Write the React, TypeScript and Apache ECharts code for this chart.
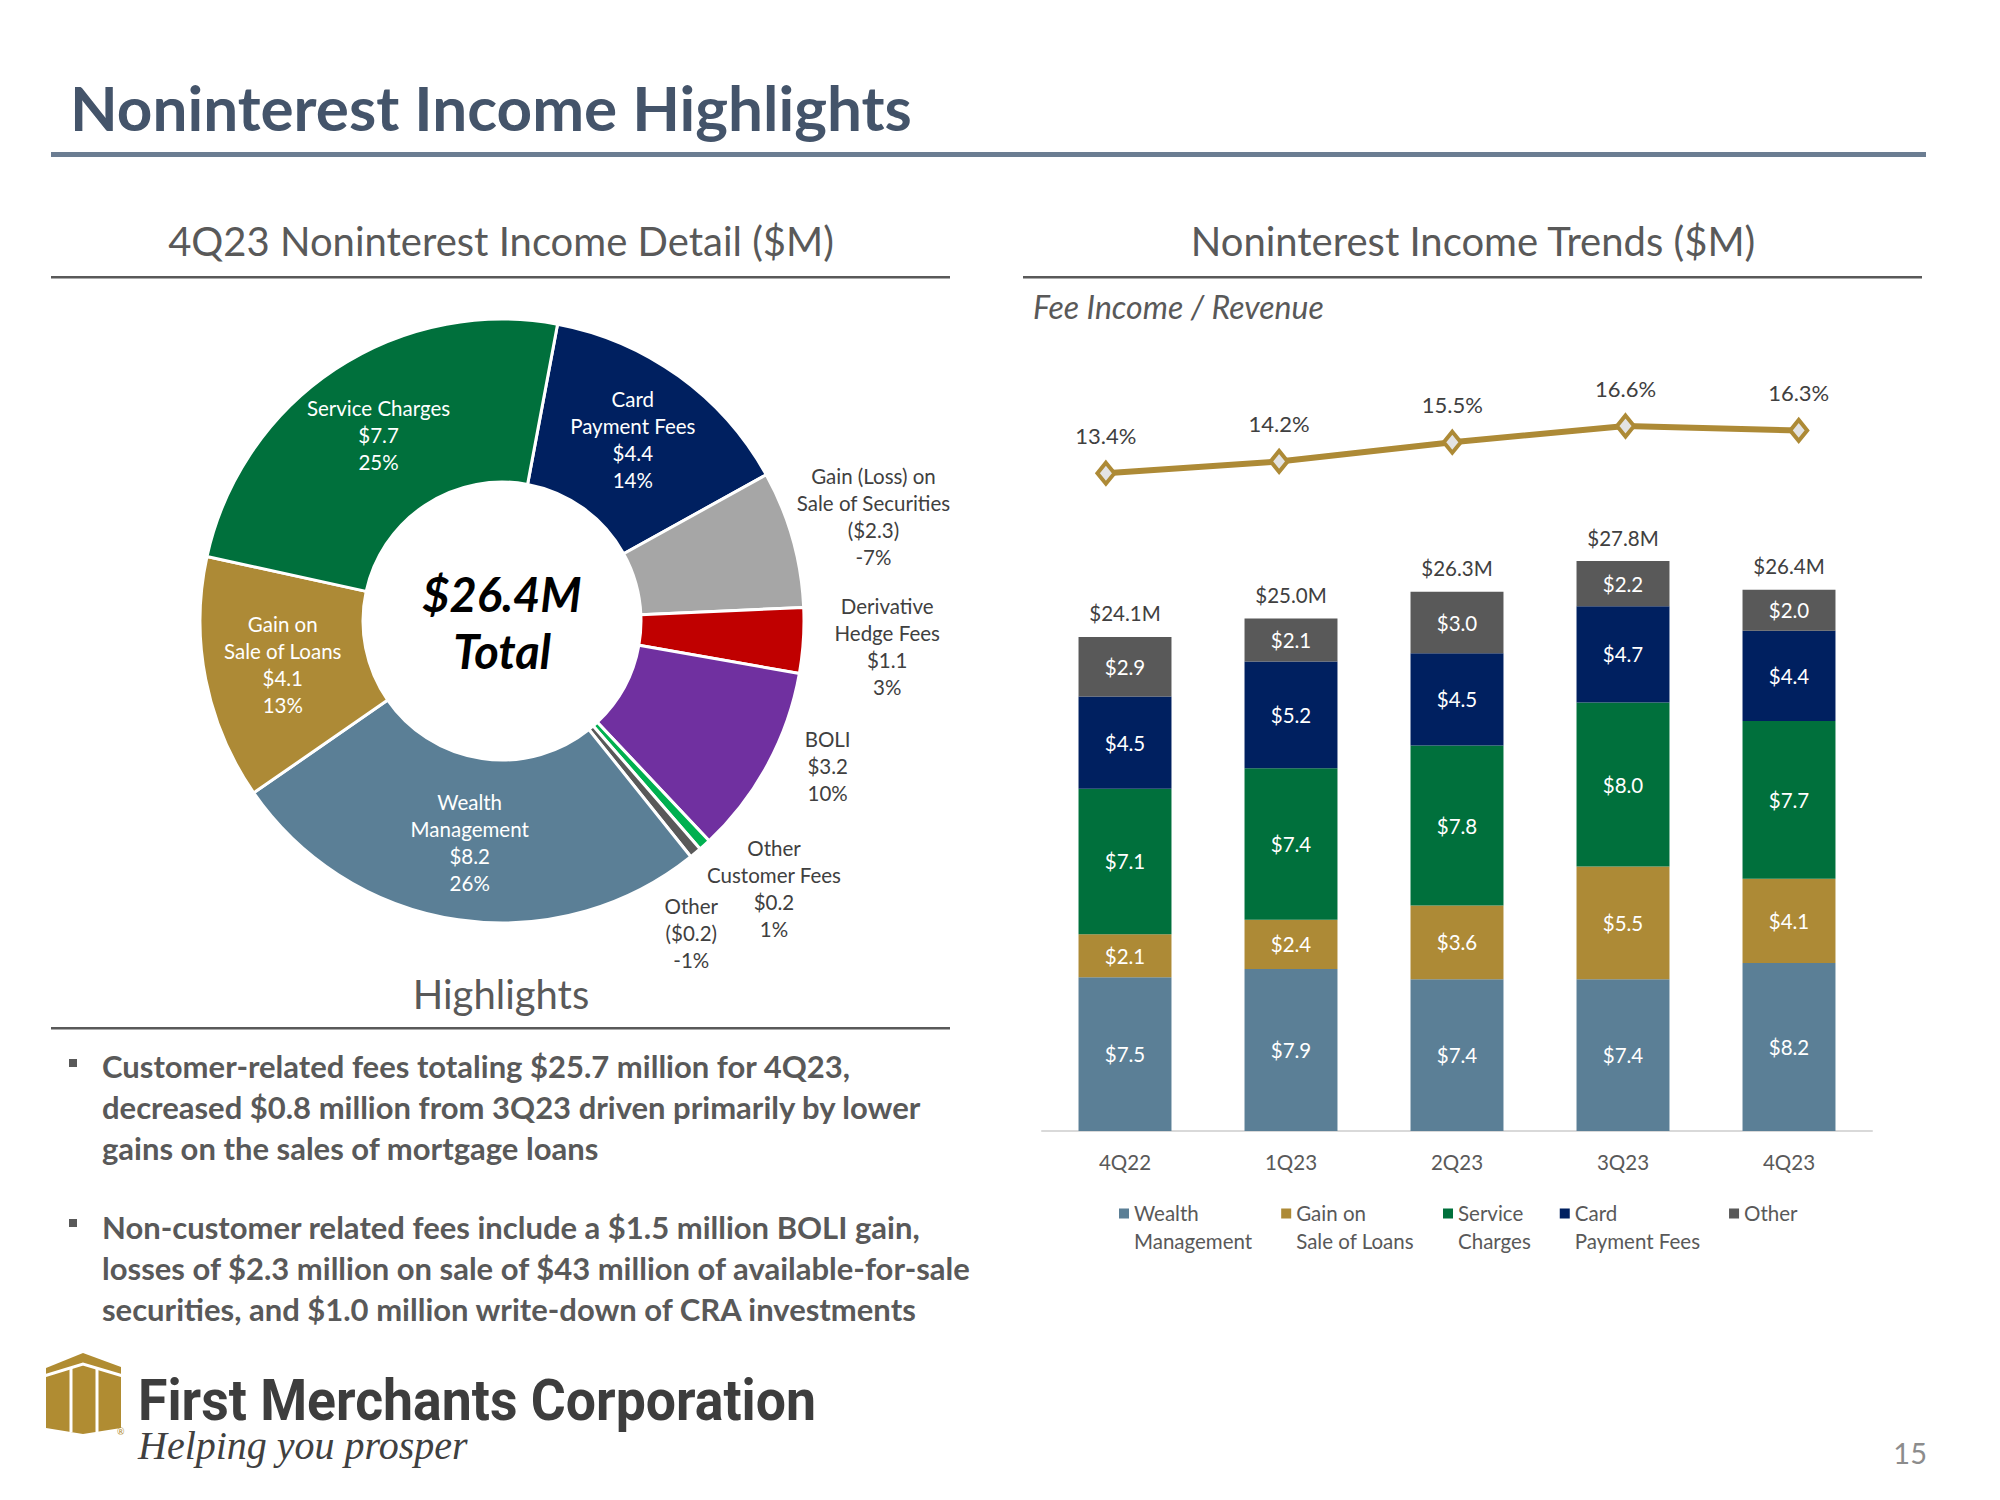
import React, { useEffect, useRef } from "react";
import * as echarts from "echarts";

// ---------------- data ----------------
const quarters = ["4Q22", "1Q23", "2Q23", "3Q23", "4Q23"];
const wealthManagement = [7.5, 7.9, 7.4, 7.4, 8.2];
const gainOnSaleOfLoans = [2.1, 2.4, 3.6, 5.5, 4.1];
const serviceCharges = [7.1, 7.4, 7.8, 8.0, 7.7];
const cardPaymentFees = [4.5, 5.2, 4.5, 4.7, 4.4];
const otherIncome = [2.9, 2.1, 3.0, 2.2, 2.0];
const quarterTotals = [24.1, 25.0, 26.3, 27.8, 26.4];
const feeIncomeToRevenue = [13.4, 14.2, 15.5, 16.6, 16.3];

const detailNames = [
  "Card\nPayment Fees",
  "Gain (Loss) on\nSale of Securities",
  "Derivative\nHedge Fees",
  "BOLI",
  "Other\nCustomer Fees",
  "Other",
  "Wealth\nManagement",
  "Gain on\nSale of Loans",
  "Service Charges",
];
const detailValues = [4.4, -2.3, 1.1, 3.2, 0.2, -0.2, 8.2, 4.1, 7.7];
const detailPercents = [14, -7, 3, 10, 1, -1, 26, 13, 25];
const detailTotal = 26.4;

const bulletLines1 = [
  "Customer-related fees totaling $25.7 million for 4Q23,",
  "decreased $0.8 million from 3Q23 driven primarily by lower",
  "gains on the sales of mortgage loans",
];
const bulletLines2 = [
  "Non-customer related fees include a $1.5 million BOLI gain,",
  "losses of $2.3 million on sale of $43 million of available-for-sale",
  "securities, and $1.0 million write-down of CRA investments",
];

// ---------------- styles ----------------
const FONT = "Lato, 'Open Sans', sans-serif";
const LOGO_FONT = "Roboto, 'DejaVu Sans', sans-serif";
const C_WEALTH = "#5B7F96";
const C_GOLD = "#AD8A36";
const C_GREEN = "#00703C";
const C_NAVY = "#002060";
const C_OTHER = "#595959";
const detailColors = [C_NAVY, "#A6A6A6", "#C00000", "#7030A0", "#00B050", "#595959", C_WEALTH, C_GOLD, C_GREEN];
const detailInside = [true, false, false, false, false, false, true, true, true];
const outerLabelShift: Record<number, [number, number]> = { 3: [-14, -38], 4: [13, -19], 5: [-58, 16] };

const money = (v: number) => (v < 0 ? `($${Math.abs(v).toFixed(1)})` : `$${v.toFixed(1)}`);

const measureText = (text: string, font: string) => {
  const ctx = document.createElement("canvas").getContext("2d");
  if (!ctx) return 0;
  ctx.font = font;
  return ctx.measureText(text).width;
};

export default function App() {
  const ref = useRef<HTMLDivElement>(null);
  useEffect(() => {
    document.body.style.margin = "0";
    if (!ref.current) return;
    const chart = echarts.init(ref.current, undefined, { renderer: "svg" });

    const barNames = ["Wealth\nManagement", "Gain on\nSale of Loans", "Service\nCharges", "Card\nPayment Fees", "Other"];
    const barData = [wealthManagement, gainOnSaleOfLoans, serviceCharges, cardPaymentFees, otherIncome];
    const barColors = [C_WEALTH, C_GOLD, C_GREEN, C_NAVY, C_OTHER];

    const pieFormatter = (p: any) =>
      `${p.name}\n${money(detailValues[p.dataIndex])}\n${detailPercents[p.dataIndex]}%`;

    const pieCenter = [502, 621];
    const startAngle = 79.4;

    // logo wordmark fitted to its width in the slide
    const logoText = "First Merchants Corporation";
    const logoSize = 58;
    const logoW = measureText(logoText, `bold ${logoSize}px ${LOGO_FONT}`) || 800;
    const logoScale = 678 / logoW;

    const txt = (text: string, x: number, y: number, extra: any = {}) => ({
      type: "text",
      x,
      y,
      silent: true,
      style: { text, fontFamily: FONT, fill: "#595959", verticalAlign: "middle", ...extra },
    });

    const graphics: any[] = [
      txt("Noninterest Income Highlights", 70, 107, { fontSize: 62, fontWeight: "bold", fill: "#44546A" }),
      { type: "rect", silent: true, shape: { x: 51, y: 152, width: 1875, height: 5 }, style: { fill: "#6B7D92" } },
      txt("4Q23 Noninterest Income Detail ($M)", 501, 241, { fontSize: 40, align: "center" }),
      { type: "rect", silent: true, shape: { x: 51, y: 276, width: 899, height: 2.5 }, style: { fill: "#595959" } },
      txt("Noninterest Income Trends ($M)", 1473, 241, { fontSize: 40, align: "center" }),
      { type: "rect", silent: true, shape: { x: 1023, y: 276, width: 899, height: 2.5 }, style: { fill: "#595959" } },
      txt("Fee Income / Revenue", 1033, 306, { fontSize: 32, fontStyle: "italic" }),
      txt(`$${detailTotal.toFixed(1)}M`, 502, 594, { fontSize: 47, fontWeight: "bold", fontStyle: "italic", fill: "#000", align: "center" }),
      txt("Total", 502, 651, { fontSize: 47, fontWeight: "bold", fontStyle: "italic", fill: "#000", align: "center" }),
      txt("Highlights", 501, 994, { fontSize: 40, align: "center" }),
      { type: "rect", silent: true, shape: { x: 51, y: 1027, width: 899, height: 2.5 }, style: { fill: "#595959" } },
      { type: "rect", silent: true, shape: { x: 69, y: 1059, width: 8, height: 8 }, style: { fill: "#595959" } },
      { type: "rect", silent: true, shape: { x: 69, y: 1219, width: 8, height: 8 }, style: { fill: "#595959" } },
      {
        type: "text", x: 102, y: 1045, silent: true,
        style: { text: bulletLines1.join("\n"), fontFamily: FONT, fontSize: 31, fontWeight: "bold", fill: "#595959", lineHeight: 41, verticalAlign: "top" },
      },
      {
        type: "text", x: 102, y: 1206, silent: true,
        style: { text: bulletLines2.join("\n"), fontFamily: FONT, fontSize: 31, fontWeight: "bold", fill: "#595959", lineHeight: 41, verticalAlign: "top" },
      },
      // logo
      {
        type: "polygon", silent: true,
        shape: { points: [[46, 1368], [83, 1353], [121, 1367], [121, 1428], [83, 1434], [46, 1428]] },
        style: { fill: "#B08C32" },
      },
      { type: "polyline", silent: true, shape: { points: [[44, 1376], [83, 1364], [123, 1376]] }, style: { stroke: "#fff", lineWidth: 3, fill: null } },
      { type: "line", silent: true, shape: { x1: 71, y1: 1368, x2: 71, y2: 1432 }, style: { stroke: "#fff", lineWidth: 3 } },
      { type: "line", silent: true, shape: { x1: 97, y1: 1368, x2: 97, y2: 1432 }, style: { stroke: "#fff", lineWidth: 3 } },
      txt("®", 117, 1431, { fontSize: 9, fill: "#B08C32" }),
      {
        type: "text", x: 138, y: 1400, scaleX: logoScale, silent: true,
        style: { text: logoText, fontFamily: LOGO_FONT, fontSize: logoSize, lineHeight: 46, fontWeight: "bold", fill: "#3D3D3D", verticalAlign: "middle" },
      },
      {
        type: "text", x: 138, y: 1445, silent: true,
        style: { text: "Helping you prosper", fontFamily: "'Liberation Serif', serif", fontSize: 40, lineHeight: 34, fontStyle: "italic", fill: "#404040", verticalAlign: "middle" },
      },
      txt("15", 1927, 1452, { fontSize: 29, fill: "#8C8C8C", align: "right" }),
    ];

    const option: any = {
      animation: false,
      backgroundColor: "#ffffff",
      textStyle: { fontFamily: FONT },
      grid: [
        { left: 1042, width: 830, top: 516, height: 615 },
        { left: 1019.3, width: 866, top: 405.35, height: 118 },
      ],
      xAxis: [
        {
          type: "category", gridIndex: 0, data: quarters,
          axisLine: { lineStyle: { color: "#D9D9D9", width: 2 } },
          axisTick: { show: false },
          axisLabel: { color: "#595959", fontSize: 20.5, margin: 20, fontFamily: FONT },
        },
        { type: "category", gridIndex: 1, data: quarters, show: false },
      ],
      yAxis: [
        { type: "value", gridIndex: 0, min: 0, max: 30, show: false, splitLine: { show: false } },
        { type: "value", gridIndex: 1, min: 10, max: 18, show: false, splitLine: { show: false } },
      ],
      legend: {
        data: barNames,
        left: 1119,
        top: 1199,
        padding: 0,
        itemGap: 29,
        itemWidth: 10,
        itemHeight: 37,
        icon: "path://M0,0h10v10h-10z M0,36.9h0.1v0.1h-0.1z",
        selectedMode: false,
        formatter: (name: string) => (name.includes("\n") ? name : name + "\n "),
        textStyle: { color: "#595959", fontSize: 20.5, lineHeight: 28, fontFamily: FONT },
      },
      graphic: graphics,
      series: [
        ...barNames.map((n, i) => ({
          type: "bar",
          name: n,
          stack: "total",
          xAxisIndex: 0,
          yAxisIndex: 0,
          data: barData[i],
          barCategoryGap: "44%",
          itemStyle: { color: barColors[i] },
          silent: true,
          label: {
            show: true,
            position: "inside",
            color: "#FFFFFF",
            fontSize: 20.5,
            fontFamily: FONT,
            formatter: (p: any) => `$${Number(p.value).toFixed(1)}`,
          },
        })),
        {
          type: "bar",
          name: "Total",
          stack: "total",
          xAxisIndex: 0,
          yAxisIndex: 0,
          data: quarterTotals.map(() => 0),
          silent: true,
          itemStyle: { color: "transparent" },
          label: {
            show: true,
            position: "top",
            distance: 13,
            color: "#404040",
            fontSize: 20.5,
            fontFamily: FONT,
            formatter: (p: any) => `$${quarterTotals[p.dataIndex].toFixed(1)}M`,
          },
        },
        {
          type: "line",
          name: "Fee Income / Revenue",
          xAxisIndex: 1,
          yAxisIndex: 1,
          data: feeIncomeToRevenue,
          silent: true,
          lineStyle: { color: C_GOLD, width: 6 },
          symbol: "diamond",
          symbolSize: [17, 21],
          itemStyle: { color: "#E3E3E3", borderColor: C_GOLD, borderWidth: 4 },
          label: {
            show: true,
            position: "top",
            distance: 14,
            color: "#404040",
            fontSize: 22,
            fontFamily: FONT,
            formatter: (p: any) => `${Number(p.value).toFixed(1)}%`,
          },
        },
        {
          type: "pie",
          name: "detail",
          center: pieCenter,
          radius: [139, 302],
          startAngle,
          clockwise: true,
          avoidLabelOverlap: false,
          silent: true,
          itemStyle: { borderColor: "#FFFFFF", borderWidth: 3 },
          label: {
            show: true,
            position: "inside",
            color: "#FFFFFF",
            fontSize: 20.5,
            lineHeight: 27,
            fontFamily: FONT,
            formatter: pieFormatter,
          },
          labelLine: { show: false },
          emphasis: { disabled: true },
          data: detailNames.map((n, i) => ({
            name: n,
            value: Math.abs(detailValues[i]),
            itemStyle: { color: detailColors[i] },
            label: { show: detailInside[i] },
          })),
        },
        {
          type: "pie",
          name: "detailOuterLabels",
          center: pieCenter,
          radius: [302, 464],
          startAngle,
          clockwise: true,
          avoidLabelOverlap: false,
          silent: true,
          itemStyle: { color: "rgba(0,0,0,0)", borderWidth: 0 },
          label: {
            show: true,
            position: "inside",
            color: "#404040",
            fontSize: 20.5,
            lineHeight: 27,
            fontFamily: FONT,
            formatter: pieFormatter,
          },
          labelLine: { show: false },
          emphasis: { disabled: true },
          labelLayout: (p: any) => {
            const s = outerLabelShift[p.dataIndex];
            return s ? { dx: s[0], dy: s[1] } : {};
          },
          data: detailNames.map((n, i) => ({
            name: n,
            value: Math.abs(detailValues[i]),
            label: { show: !detailInside[i] },
          })),
        },
      ],
    };

    chart.setOption(option);
    return () => chart.dispose();
  }, []);

  return <div ref={ref} style={{ width: 2000, height: 1500, background: "#fff" }} />;
}
